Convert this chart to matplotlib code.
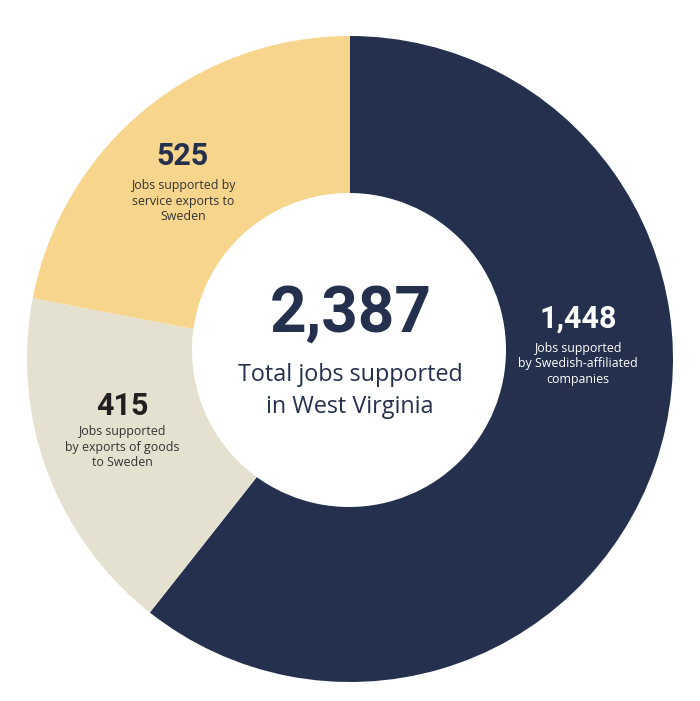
import matplotlib
matplotlib.use("Agg")
import matplotlib.pyplot as plt
from matplotlib.patches import Circle

# Data
categories = ["Swedish-affiliated companies", "Exports of goods to Sweden", "Service exports to Sweden"]
values = [1448, 415, 525]
value_labels = ["1,448", "415", "525"]
descriptions = ["Jobs supported\nby Swedish-affiliated\ncompanies",
                "Jobs supported\nby exports of goods\nto Sweden",
                "Jobs supported by\nservice exports to\nSweden"]
total_label = "2,387"
total_text = "Total jobs supported\nin West Virginia"

# Styles
colors = ["#24304d", "#e4e1d1", "#f8d58c"]
num_colors = ["#ffffff", "#231f20", "#24304d"]
desc_colors = ["#ffffff", "#333333", "#333333"]
NAVY = "#24304d"

W, H = 700, 701
fig = plt.figure(figsize=(W / 100, H / 100), dpi=100)
fig.patch.set_facecolor("white")
ax = fig.add_axes([0, 0, 1, 1])

def Y(y):
    return H - y

ax.pie(values, colors=colors, startangle=90, counterclock=False,
       radius=323, center=(350, Y(359)),
       wedgeprops=dict(linewidth=0, antialiased=True))
ax.add_patch(Circle((349, Y(350)), 157, facecolor="white", edgecolor="none", zorder=3))

ax.set_xlim(0, W)
ax.set_ylim(0, H)
ax.set_aspect("equal")
ax.axis("off")

num_font = "Roboto"
txt_font = "Open Sans"

# centre text
ax.text(351, Y(314), total_label, ha="center", va="center", fontsize=46,
        fontweight="bold", family=num_font, color=NAVY, zorder=4)
ax.text(350, Y(391), total_text, ha="center", va="center", fontsize=16.8,
        family=txt_font, color=NAVY, linespacing=1.42, zorder=4)

# segment labels
num_pos = [(578, 319), (122, 406), (183, 156)]
desc_pos = [(578, 364), (122, 447), (183, 201)]
num_sizes = [22, 22, 22]
for i in range(len(values)):
    ax.text(num_pos[i][0], Y(num_pos[i][1]), value_labels[i], ha="center", va="center",
            fontsize=num_sizes[i], fontweight="bold", family=num_font,
            color=num_colors[i], zorder=4)
    ax.text(desc_pos[i][0], Y(desc_pos[i][1]), descriptions[i], ha="center", va="center",
            fontsize=8.9, family=txt_font, color=desc_colors[i],
            linespacing=1.25, zorder=4)

fig.savefig("out.png", dpi=100, facecolor="white")
